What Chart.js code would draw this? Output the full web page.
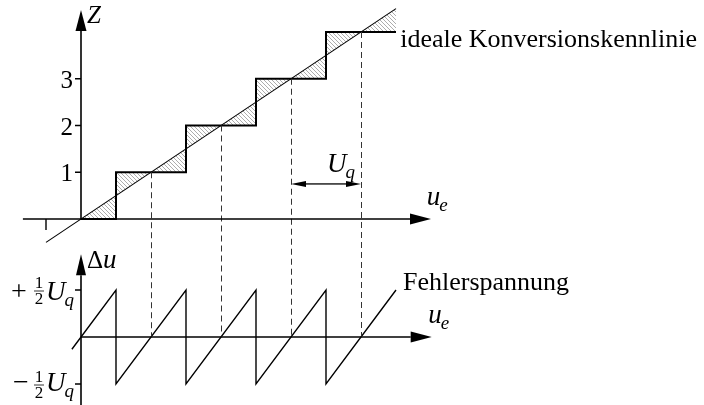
<!DOCTYPE html>
<html>
<head>
<meta charset="utf-8">
<script src="https://cdn.jsdelivr.net/npm/chart.js@4/dist/chart.umd.min.js"></script>
<style>
  html, body { margin: 0; padding: 0; background: #fff; }
  #wrap { width: 704px; height: 405px; }
</style>
</head>
<body>
<div id="wrap"><canvas id="kennlinie" width="704" height="405"></canvas></div>
<script>
// Eingangsspannung u_e in Vielfachen von Uq
const idealU = [-0.5, 4.5];
const idealZ = [-0.5, 4.5];

// Treppe: Stufen jeweils in der Mitte zwischen den Codes (stepped: 'middle')
const stufeU = [0, 1, 2, 3, 4, 4.5];
const stufeZ = [0, 1, 2, 3, 4, 4];

// Fehlerspannung Δu in Vielfachen von Uq
const fehlerU = [-0.13, 0.5, 0.5, 1.5, 1.5, 2.5, 2.5, 3.5, 3.5, 4.5];
const fehlerD = [-0.13, 0.5, -0.5, 0.5, -0.5, 0.5, -0.5, 0.5, -0.5, 0.5];

const zTicks = ['1', '2', '3'];
const zTickWerte = [1, 2, 3];
const duTickWerte = [0.5, -0.5];
const hilfslinienU = [1, 2, 3, 4];

// Pixelmaßstab
const X0 = 81, UQ = 70;        // u_e = 0, Breite von Uq
const Y0 = 219, DZ = 46.75;    // Z = 0, eine Stufe
const Y0E = 337, DE = 94;      // Δu = 0, ein Uq
const W = 704, H = 405;

const SERIF = '"Liberation Serif", "Times New Roman", serif';

function schraffur() {
  const s = 4;
  const c = document.createElement('canvas');
  c.width = s; c.height = s;
  const g = c.getContext('2d');
  g.strokeStyle = '#8a8a8a';
  g.lineWidth = 0.7;
  g.beginPath();
  for (const x0 of [-s, 0, s]) {
    g.moveTo(x0, 0);
    g.lineTo(x0 + s, s);
  }
  g.stroke();
  return g.createPattern(c, 'repeat');
}

function pfeil(ctx, x1, y1, x2, y2, len, half) {
  const a = Math.atan2(y2 - y1, x2 - x1);
  const bx = x2 - Math.cos(a) * len, by = y2 - Math.sin(a) * len;
  ctx.beginPath();
  ctx.moveTo(x1, y1);
  ctx.lineTo(bx, by);
  ctx.stroke();
  ctx.beginPath();
  ctx.moveTo(x2, y2);
  ctx.lineTo(bx - Math.sin(a) * half, by + Math.cos(a) * half);
  ctx.lineTo(bx + Math.sin(a) * half, by - Math.cos(a) * half);
  ctx.closePath();
  ctx.fill();
}

function text(ctx, s, x, y, size, italic) {
  ctx.font = (italic ? 'italic ' : '') + size + 'px ' + SERIF;
  ctx.fillText(s, x, y);
  return ctx.measureText(s).width;
}

function mitIndex(ctx, haupt, index, x, y, size) {
  const w = text(ctx, haupt, x, y, size, true);
  text(ctx, index, x + w - 1, y + size * 0.22, Math.round(size * 0.7), true);
}

function halb(ctx, x, yBar) {
  ctx.textAlign = 'center';
  text(ctx, '1', x, yBar - 3, 17, false);
  text(ctx, '2', x, yBar + 13, 17, false);
  ctx.textAlign = 'left';
  ctx.lineWidth = 0.8;
  ctx.beginPath();
  ctx.moveTo(x - 5, yBar);
  ctx.lineTo(x + 5, yBar);
  ctx.stroke();
}

const zeichnung = {
  id: 'zeichnung',
  afterDatasetsDraw(chart) {
    const { ctx, scales: { x, y, y2 } } = chart;
    ctx.save();
    ctx.fillStyle = '#000';
    ctx.strokeStyle = '#000';
    ctx.textBaseline = 'alphabetic';

    // gestrichelte Hilfslinien von der Kennlinie bis zur Δu-Achse
    ctx.strokeStyle = '#333';
    ctx.lineWidth = 1;
    ctx.setLineDash([6, 4]);
    hilfslinienU.forEach(u => {
      const px = Math.round(x.getPixelForValue(u)) + 0.5;
      ctx.beginPath();
      ctx.moveTo(px, y.getPixelForValue(u));
      ctx.lineTo(px, y2.getPixelForValue(0));
      ctx.stroke();
    });
    ctx.setLineDash([]);
    ctx.strokeStyle = '#000';

    // obere Achsen
    const ox = x.getPixelForValue(0), oy = y.getPixelForValue(0);
    ctx.lineWidth = 1.6;
    pfeil(ctx, x.getPixelForValue(-0.83), oy, x.getPixelForValue(5), oy, 21, 5.5);
    pfeil(ctx, ox, oy, ox, y.getPixelForValue(4.47), 21, 5.5);
    ctx.lineWidth = 1.4;
    ctx.beginPath();
    ctx.moveTo(x.getPixelForValue(-0.5), oy);
    ctx.lineTo(x.getPixelForValue(-0.5), oy + 11);
    zTickWerte.forEach(z => {
      const py = y.getPixelForValue(z);
      ctx.moveTo(ox - 6, py);
      ctx.lineTo(ox, py);
    });
    ctx.stroke();

    ctx.textAlign = 'right';
    zTickWerte.forEach((z, i) => {
      text(ctx, zTicks[i], ox - 8, y.getPixelForValue(z) + 9, 25, false);
    });
    ctx.textAlign = 'left';
    text(ctx, 'Z', ox + 6, y.getPixelForValue(4.47) + 13, 25, true);
    mitIndex(ctx, 'u', 'e', x.getPixelForValue(4.94), oy - 14, 27);
    text(ctx, 'ideale Konversionskennlinie', x.getPixelForValue(4.56), y.getPixelForValue(4) + 15, 26, false);

    // Maßpfeil Uq
    const ay = y.getPixelForValue(0.75);
    ctx.lineWidth = 1.3;
    const mx = (x.getPixelForValue(3) + x.getPixelForValue(4)) / 2;
    pfeil(ctx, mx, ay, x.getPixelForValue(3), ay, 15, 3);
    pfeil(ctx, mx, ay, x.getPixelForValue(4), ay, 15, 3);
    mitIndex(ctx, 'U', 'q', x.getPixelForValue(3.5) + 1, ay - 12, 27);

    // untere Achsen
    const ey = y2.getPixelForValue(0);
    ctx.lineWidth = 1.6;
    pfeil(ctx, ox, ey, x.getPixelForValue(5.01), ey, 21, 5.5);
    pfeil(ctx, ox, H, ox, y2.getPixelForValue(0.88), 21, 5);
    ctx.lineWidth = 1.4;
    ctx.beginPath();
    duTickWerte.forEach(d => {
      const py = y2.getPixelForValue(d);
      ctx.moveTo(ox - 6, py);
      ctx.lineTo(ox, py);
    });
    ctx.stroke();

    const tOben = y2.getPixelForValue(0.5), tUnten = y2.getPixelForValue(-0.5);
    text(ctx, '+', 11, tOben + 10, 28, false);
    halb(ctx, 39, tOben + 1);
    mitIndex(ctx, 'U', 'q', 46, tOben + 10, 27);
    text(ctx, '\u2212', 13, tUnten + 7, 28, false);
    halb(ctx, 39, tUnten + 1);
    mitIndex(ctx, 'U', 'q', 46, tUnten + 7, 27);

    text(ctx, '\u0394', ox + 6, y2.getPixelForValue(0.88) + 14, 25, false);
    text(ctx, 'u', ox + 22, y2.getPixelForValue(0.88) + 14, 27, true);
    mitIndex(ctx, 'u', 'e', x.getPixelForValue(4.96), ey - 14, 27);
    text(ctx, 'Fehlerspannung', x.getPixelForValue(4.6), y2.getPixelForValue(0.5), 26, false);

    ctx.restore();
  }
};

const pts = (xs, ys) => xs.map((v, i) => ({ x: v, y: ys[i] }));

new Chart(document.getElementById('kennlinie'), {
  type: 'line',
  data: {
    datasets: [
      {
        label: 'ideale Konversionskennlinie',
        data: pts(idealU, idealZ),
        borderColor: '#000',
        borderWidth: 1.1,
        pointRadius: 0,
        fill: false
      },
      {
        label: 'Z',
        data: pts(stufeU, stufeZ),
        stepped: 'middle',
        borderColor: '#000',
        borderWidth: 2,
        pointRadius: 0,
        fill: { target: 0, above: schraffur(), below: schraffur() }
      },
      {
        label: 'Fehlerspannung',
        data: pts(fehlerU, fehlerD),
        yAxisID: 'y2',
        borderColor: '#000',
        borderWidth: 1.4,
        pointRadius: 0,
        fill: false
      }
    ]
  },
  options: {
    responsive: false,
    animation: false,
    events: [],
    devicePixelRatio: 1,
    layout: { padding: 0 },
    plugins: { legend: { display: false }, tooltip: { enabled: false } },
    scales: {
      x: { type: 'linear', display: false, min: -X0 / UQ, max: (W - X0) / UQ },
      y: { type: 'linear', display: false, min: -(H - Y0) / DZ, max: Y0 / DZ },
      y2: { type: 'linear', display: false, min: -(H - Y0E) / DE, max: Y0E / DE }
    }
  },
  plugins: [zeichnung]
});
</script>
</body>
</html>
